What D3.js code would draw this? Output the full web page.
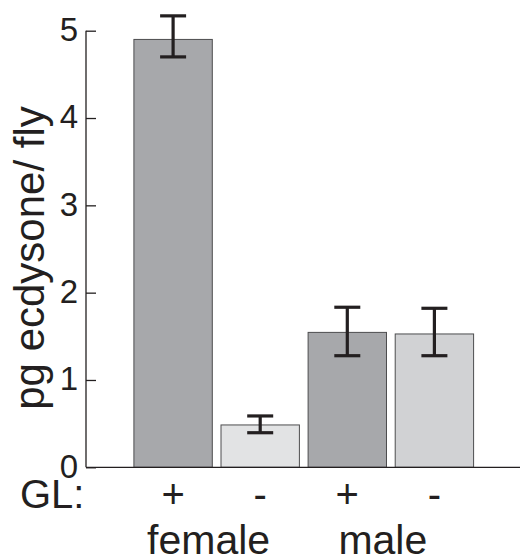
<!DOCTYPE html>
<html>
<head>
<meta charset="utf-8">
<script src="https://cdn.jsdelivr.net/npm/d3@7"></script>
<style>
  body { margin: 0; background: #fff; }
  text { font-family: "Liberation Sans", Arial, Helvetica, sans-serif; fill: #231f20; }
</style>
</head>
<body>
<div id="chart"></div>
<script>
// values
var glLabels = ["+", "-", "+", "-"];
var sexes = ["female", "female", "male", "male"];
var groups = ["female", "male"];
var means = [4.90, 0.485, 1.545, 1.527];
var errLow = [4.70, 0.396, 1.278, 1.278];
var errHigh = [5.17, 0.588, 1.833, 1.821];
var barColors = ["#a7a8ab", "#e2e3e4", "#a7a8ab", "#d1d2d4"];
var yTicks = [0, 1, 2, 3, 4, 5];

var width = 520, height = 558;
var ink = "#231f20";

var svg = d3.select("#chart")
  .append("svg")
  .attr("width", width)
  .attr("height", height);

// bars sit at 1..4 on a 0..5 axis
var x = d3.scaleLinear().domain([0, 5]).range([86, 521.5]);
var y = d3.scaleLinear().domain([0, 5]).range([467.3, 30.7]);
var barW = x(0.9) - x(0);

var bars = means.map(function(m, i) { return {i: i, pos: i + 1, mean: m, lo: errLow[i], hi: errHigh[i]}; });

svg.selectAll("rect.bar")
  .data(bars)
  .enter()
  .append("rect")
  .attr("class", "bar")
  .attr("x", function(d) { return x(d.pos) - barW / 2; })
  .attr("y", function(d) { return y(d.mean); })
  .attr("width", barW)
  .attr("height", function(d) { return y(0) - y(d.mean); })
  .attr("fill", function(d) { return barColors[d.i]; })
  .attr("stroke", "#4d4d4f")
  .attr("stroke-width", 1);

// error bars
var capW = 26;
var eb = svg.selectAll("g.err")
  .data(bars)
  .enter()
  .append("g")
  .attr("class", "err")
  .attr("stroke", ink)
  .attr("stroke-width", 3.2);

eb.append("line")
  .attr("x1", function(d) { return x(d.pos); })
  .attr("x2", function(d) { return x(d.pos); })
  .attr("y1", function(d) { return y(d.lo); })
  .attr("y2", function(d) { return y(d.hi); });

eb.append("line")
  .attr("x1", function(d) { return x(d.pos) - capW / 2; })
  .attr("x2", function(d) { return x(d.pos) + capW / 2; })
  .attr("y1", function(d) { return y(d.hi); })
  .attr("y2", function(d) { return y(d.hi); });

eb.append("line")
  .attr("x1", function(d) { return x(d.pos) - capW / 2; })
  .attr("x2", function(d) { return x(d.pos) + capW / 2; })
  .attr("y1", function(d) { return y(d.lo); })
  .attr("y2", function(d) { return y(d.lo); });

// y axis, ticks pointing inward
var yAxis = d3.axisLeft(y)
  .tickValues(yTicks)
  .tickSize(-10)
  .tickPadding(8)
  .tickFormat(d3.format("d"));

var gy = svg.append("g")
  .attr("transform", "translate(" + x(0) + ",0)")
  .call(yAxis);

gy.select(".domain")
  .attr("stroke", ink)
  .attr("stroke-width", 1.3)
  .attr("d", "M0," + y(5) + "V" + y(0));
gy.selectAll(".tick line").attr("stroke", ink).attr("stroke-width", 1.3);
gy.selectAll(".tick text")
  .attr("font-size", 33)
  .attr("fill", ink)
  .attr("dy", "0.3em");

// x baseline
svg.append("line")
  .attr("x1", x(0))
  .attr("x2", width)
  .attr("y1", y(0))
  .attr("y2", y(0))
  .attr("stroke", ink)
  .attr("stroke-width", 1.3);

// y label
svg.append("text")
  .attr("transform", "translate(44," + ((y(0) + y(5)) / 2 + 9) + ") rotate(-90)")
  .attr("text-anchor", "middle")
  .attr("font-size", 42)
  .text("pg ecdysone/ fly");

// GL row
svg.append("text")
  .attr("x", 20)
  .attr("y", 508)
  .attr("font-size", 40)
  .text("GL:");

svg.selectAll("text.gl")
  .data(bars)
  .enter()
  .append("text")
  .attr("class", "gl")
  .attr("x", function(d) { return x(d.pos); })
  .attr("y", 508)
  .attr("text-anchor", "middle")
  .attr("font-size", 40)
  .text(function(d) { return glLabels[d.i]; });

// sex labels under each pair
svg.selectAll("text.sex")
  .data(groups)
  .enter()
  .append("text")
  .attr("class", "sex")
  .attr("x", function(g) {
    var p = bars.filter(function(d) { return sexes[d.i] === g; }).map(function(d) { return d.pos; });
    return x(d3.mean(p)) - 8;
  })
  .attr("y", 554)
  .attr("text-anchor", "middle")
  .attr("font-size", 41)
  .text(function(g) { return g; });
</script>
</body>
</html>
